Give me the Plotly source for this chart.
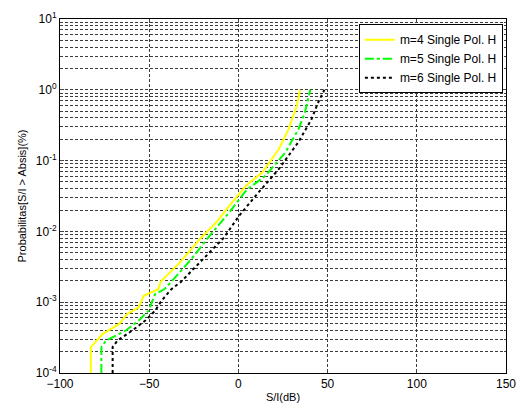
import plotly.graph_objects as go

# Data (x in dB, y as log10 probability in %)
x_m4 = [-82.7, -82.7, -76.0, -66.8, -62.3, -55.9, -53.1, -44.9, -43.6, -32.1, -21.2, -12.0, -4.8, 4.4, 13.5, 22.6, 28.1, 32.7, 34.5]
ly_m4 = [-4.0, -3.633, -3.446, -3.306, -3.166, -3.074, -2.91, -2.817, -2.71, -2.42, -2.096, -1.863, -1.63, -1.35, -1.165, -0.84, -0.56, -0.233, 0.0]

x_m5 = [-76.8, -76.8, -74.1, -63.1, -55.9, -50.4, -46.7, -41.2, -37.6, -26.7, -15.7, -4.8, 4.4, 15.3, 26.3, 33.6, 37.2, 40.3]
ly_m5 = [-4.0, -3.633, -3.54, -3.40, -3.26, -3.12, -2.887, -2.81, -2.71, -2.40, -2.05, -1.72, -1.42, -1.21, -0.885, -0.56, -0.327, 0.0]

x_m6 = [-70.5, -70.5, -67.7, -59.5, -52.2, -46.7, -43.1, -37.6, -32.1, -17.5, -8.4, 0.7, 9.9, 22.6, 33.6, 40.9, 44.5, 48.2]
ly_m6 = [-4.0, -3.633, -3.54, -3.40, -3.26, -3.12, -2.98, -2.817, -2.71, -2.33, -2.096, -1.77, -1.49, -1.12, -0.74, -0.42, -0.19, 0.0]

names = ["m=4 Single Pol. H", "m=5 Single Pol. H", "m=6 Single Pol. H"]
x_ticks = [-100, -50, 0, 50, 100, 150]
y_exps = [-4, -3, -2, -1, 0, 1]

y_m4 = [10 ** v for v in ly_m4]
y_m5 = [10 ** v for v in ly_m5]
y_m6 = [10 ** v for v in ly_m6]

fig = go.Figure()
fig.add_trace(go.Scatter(x=x_m4, y=y_m4, mode="lines", name=names[0],
                         line=dict(color="#FFFF00", width=2)))
fig.add_trace(go.Scatter(x=x_m5, y=y_m5, mode="lines", name=names[1],
                         line=dict(color="#00FF00", width=2, dash="dashdot")))
fig.add_trace(go.Scatter(x=x_m6, y=y_m6, mode="lines", name=names[2],
                         line=dict(color="#000000", width=2, dash="dot")))

minor_vals = [m * 10 ** e for e in y_exps[:-1] for m in range(2, 10)]
grid_dash = "3px,2px"
grid_col = "#3a3a3a"

fig.update_layout(
    width=526, height=412,
    margin=dict(l=60, r=10, t=15, b=39),
    paper_bgcolor="white", plot_bgcolor="white",
    font=dict(family="Liberation Sans, Arial, sans-serif", size=12, color="black"),
    showlegend=True,
    legend=dict(x=0.993, y=0.985, xanchor="right", yanchor="top",
                bgcolor="white", bordercolor="black", borderwidth=1,
                font=dict(size=12), tracegroupgap=0),
    xaxis=dict(range=[-100, 150], tickvals=x_ticks, ticks="inside", ticklen=4,
               showline=True, linecolor="black", linewidth=1, mirror="ticks",
               showgrid=True, gridcolor=grid_col, griddash=grid_dash, gridwidth=1,
               zeroline=False, title=dict(text="S/I(dB)", standoff=2, font=dict(size=11)),
               tickfont=dict(size=12)),
    yaxis=dict(type="log", range=[-4, 1], tickvals=[10 ** e for e in y_exps],
               ticktext=["10<sup>%d</sup>" % e for e in y_exps],
               ticks="inside", ticklen=4,
               showline=True, linecolor="black", linewidth=1, mirror="ticks",
               showgrid=True, gridcolor=grid_col, griddash=grid_dash, gridwidth=1,
               zeroline=False,
               minor=dict(tickvals=minor_vals, showgrid=True, gridcolor=grid_col,
                          griddash=grid_dash, gridwidth=1, ticks="inside", ticklen=2),
               title=dict(text="Probabilitas[S/I > Absis](%)", standoff=6, font=dict(size=11)),
               tickfont=dict(size=12)),
)

fig.write_html("out.html")
